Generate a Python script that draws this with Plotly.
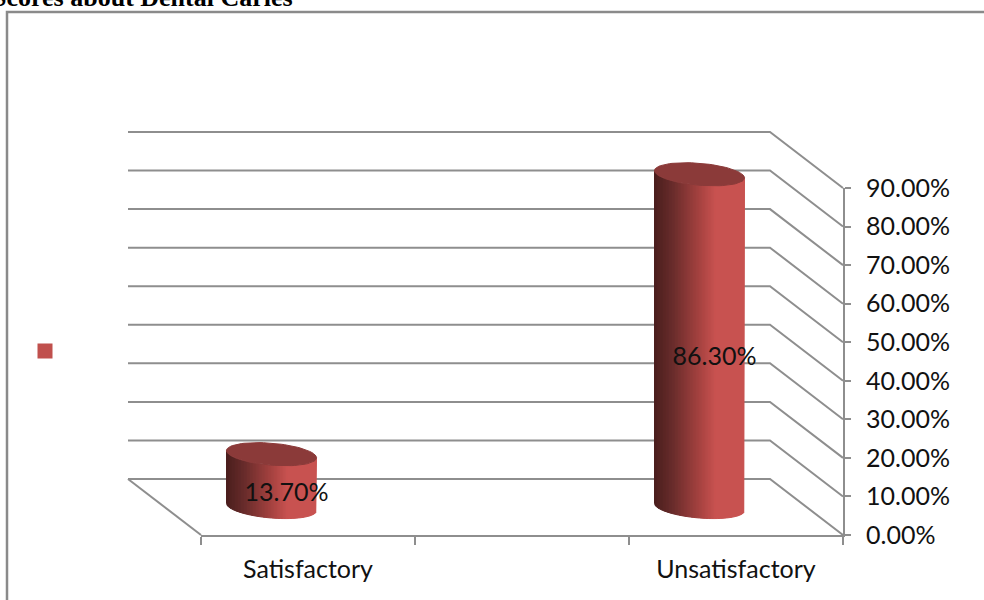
import numpy as np
import plotly.graph_objects as go

categories = ["Satisfactory", "", "Unsatisfactory"]
values = [13.7, None, 86.3]
value_labels = ["13.70%", "", "86.30%"]
y_ticks = [0, 10, 20, 30, 40, 50, 60, 70, 80, 90]
y_tick_labels = ["0.00%", "10.00%", "20.00%", "30.00%", "40.00%", "50.00%",
                 "60.00%", "70.00%", "80.00%", "90.00%"]
title_text = "Scores about Dental Caries"

W, H = 984, 600
X0, X1 = 201, 843
Y0, Y90 = 535, 188
px_per_cat = (X1 - X0) / 3
px_per_val = (Y0 - Y90) / 90
DEPTH_X = -73 / px_per_cat
DEPTH_Y = 56 / px_per_val
GRID = "#8e8e8e"
FONT = "Lato, Carlito, sans-serif"
TXT = "#111111"

# overlay axes span the whole figure at the same scale as the real axes
x2_range = [-0.5 - X0 / px_per_cat, -0.5 + (W - X0) / px_per_cat]
y2_range = [-(H - Y0) / px_per_val, Y0 / px_per_val]

fig = go.Figure()
# dummy legend entry, empty-looking series name as in the source
fig.add_trace(go.Scatter(x=[None], y=[None], mode="markers", name=" ",
                         marker=dict(symbol="square", size=15, color="#c0504d"),
                         xaxis="x", yaxis="y", showlegend=True))

# back wall, side wall
for v in y_ticks:
    xs = [-0.5 + DEPTH_X, 2.5 + DEPTH_X, 2.5]
    ys = [v + DEPTH_Y, v + DEPTH_Y, v]
    fig.add_trace(go.Scatter(x=xs, y=ys, mode="lines", line=dict(color=GRID, width=2),
                             xaxis="x2", yaxis="y2", showlegend=False, hoverinfo="skip"))
fig.add_trace(go.Scatter(x=[-0.5 + DEPTH_X, -0.5], y=[DEPTH_Y, 0], mode="lines",
                         line=dict(color=GRID, width=2), xaxis="x2", yaxis="y2",
                         showlegend=False, hoverinfo="skip"))

stops = [(0.0, (74, 30, 29)), (0.2, (104, 44, 43)), (0.5, (165, 66, 64)),
         (0.68, (200, 82, 80)), (1.0, (200, 82, 80))]
def shade(u):
    c = [np.interp(u, [s[0] for s in stops], [s[1][i] for s in stops]) for i in range(3)]
    return "rgb(%d,%d,%d)" % tuple(c)

A = 45 / px_per_cat
B = 11 / px_per_val
SHEAR = 0.08 * px_per_cat / px_per_val  # value units per category unit
N = 60
for i, val in enumerate(values):
    if val is None:
        continue
    cx = i + DEPTH_X / 2
    base = DEPTH_Y / 2
    edges = np.linspace(-1, 1, N + 1)
    for k in range(N):
        ul, ur = edges[k], edges[k + 1]
        us = np.linspace(ul, ur, 3)
        arc = -B * np.sqrt(np.clip(1 - us ** 2, 0, 1)) - SHEAR * A * us
        xs = cx + A * us
        px = list(xs) + list(xs[::-1]) + [xs[0]]
        py = list(val + base + arc) + list((base + arc)[::-1]) + [val + base + arc[0]]
        col = shade((k + 0.5) / N)
        fig.add_trace(go.Scatter(x=px, y=py, mode="lines", fill="toself", fillcolor=col,
                                 line=dict(color=col, width=1), xaxis="x2", yaxis="y2",
                                 showlegend=False, hoverinfo="skip"))
    t = np.linspace(0, 2 * np.pi, 80)
    ex = cx + A * np.cos(t)
    ey = val + base + B * np.sin(t) - SHEAR * A * np.cos(t)
    fig.add_trace(go.Scatter(x=ex, y=ey, mode="lines", fill="toself", fillcolor="#8b3a39",
                             line=dict(color="#8b3a39", width=1), xaxis="x2", yaxis="y2",
                             showlegend=False, hoverinfo="skip"))

# data labels: sit a little below the cylinder's middle, further on the taller one
lab_x = [i + 0.5 * DEPTH_X + 15 / px_per_cat for i, v in enumerate(values) if v is not None]
lab_y = [v / 2 + DEPTH_Y / 2 - (13 + 0.06 * v) / px_per_val for v in values if v is not None]
fig.add_trace(go.Scatter(x=lab_x, y=lab_y, mode="text",
                         text=[t for t in value_labels if t],
                         textfont=dict(family=FONT, size=25, color=TXT),
                         xaxis="x2", yaxis="y2", showlegend=False, hoverinfo="skip"))

# outer frame, clipped title
fig.add_shape(type="rect", xref="paper", yref="paper",
              x0=7 / W, x1=(W + 20) / W, y0=-20 / H, y1=1 - 12 / H,
              line=dict(color="#8a8a8a", width=2.5), fillcolor="rgba(0,0,0,0)", layer="below")
fig.add_annotation(xref="paper", yref="paper", x=295 / W, y=1 - 14 / H, xanchor="right",
                   yanchor="bottom", text="<b>" + title_text + "</b>", showarrow=False,
                   font=dict(family="Liberation Serif", size=26, color="#000000"))

fig.update_layout(
    width=W, height=H, margin=dict(l=0, r=0, t=0, b=0, pad=0, autoexpand=False), autosize=False,
    paper_bgcolor="white", plot_bgcolor="rgba(0,0,0,0)",
    legend=dict(x=25 / W, y=1 - 351 / H, xanchor="left", yanchor="middle",
                bgcolor="rgba(0,0,0,0)", font=dict(size=12)),
    xaxis=dict(type="linear", domain=[X0 / W, X1 / W], range=[-0.5, 2.5], anchor="y",
               tickvals=[0, 1, 2], ticktext=categories, ticks="", showgrid=False, zeroline=False,
               showline=True, linecolor=GRID, linewidth=2, ticklabelstandoff=11,
               tickfont=dict(family=FONT, size=25, color=TXT),
               minor=dict(tickvals=[-0.5, 0.5, 1.5, 2.5], ticks="outside", ticklen=8,
                          tickcolor=GRID, tickwidth=2, showgrid=False)),
    yaxis=dict(type="linear", domain=[1 - Y0 / H, 1 - Y90 / H], range=[0, 90], anchor="x", side="right",
               tickvals=y_ticks, ticktext=y_tick_labels, ticks="outside", ticklen=6,
               tickcolor=GRID, tickwidth=2, showgrid=False, zeroline=False,
               showline=True, linecolor=GRID, linewidth=2, ticklabelstandoff=10,
               tickfont=dict(family=FONT, size=25, color=TXT)),
    xaxis2=dict(type="linear", domain=[0, 1], range=x2_range, anchor="y2", visible=False),
    yaxis2=dict(type="linear", domain=[0, 1], range=y2_range, anchor="x2", visible=False),
)
fig.write_html("out.html", config={"displayModeBar": False},
               post_script="document.body.style.margin='0';")
